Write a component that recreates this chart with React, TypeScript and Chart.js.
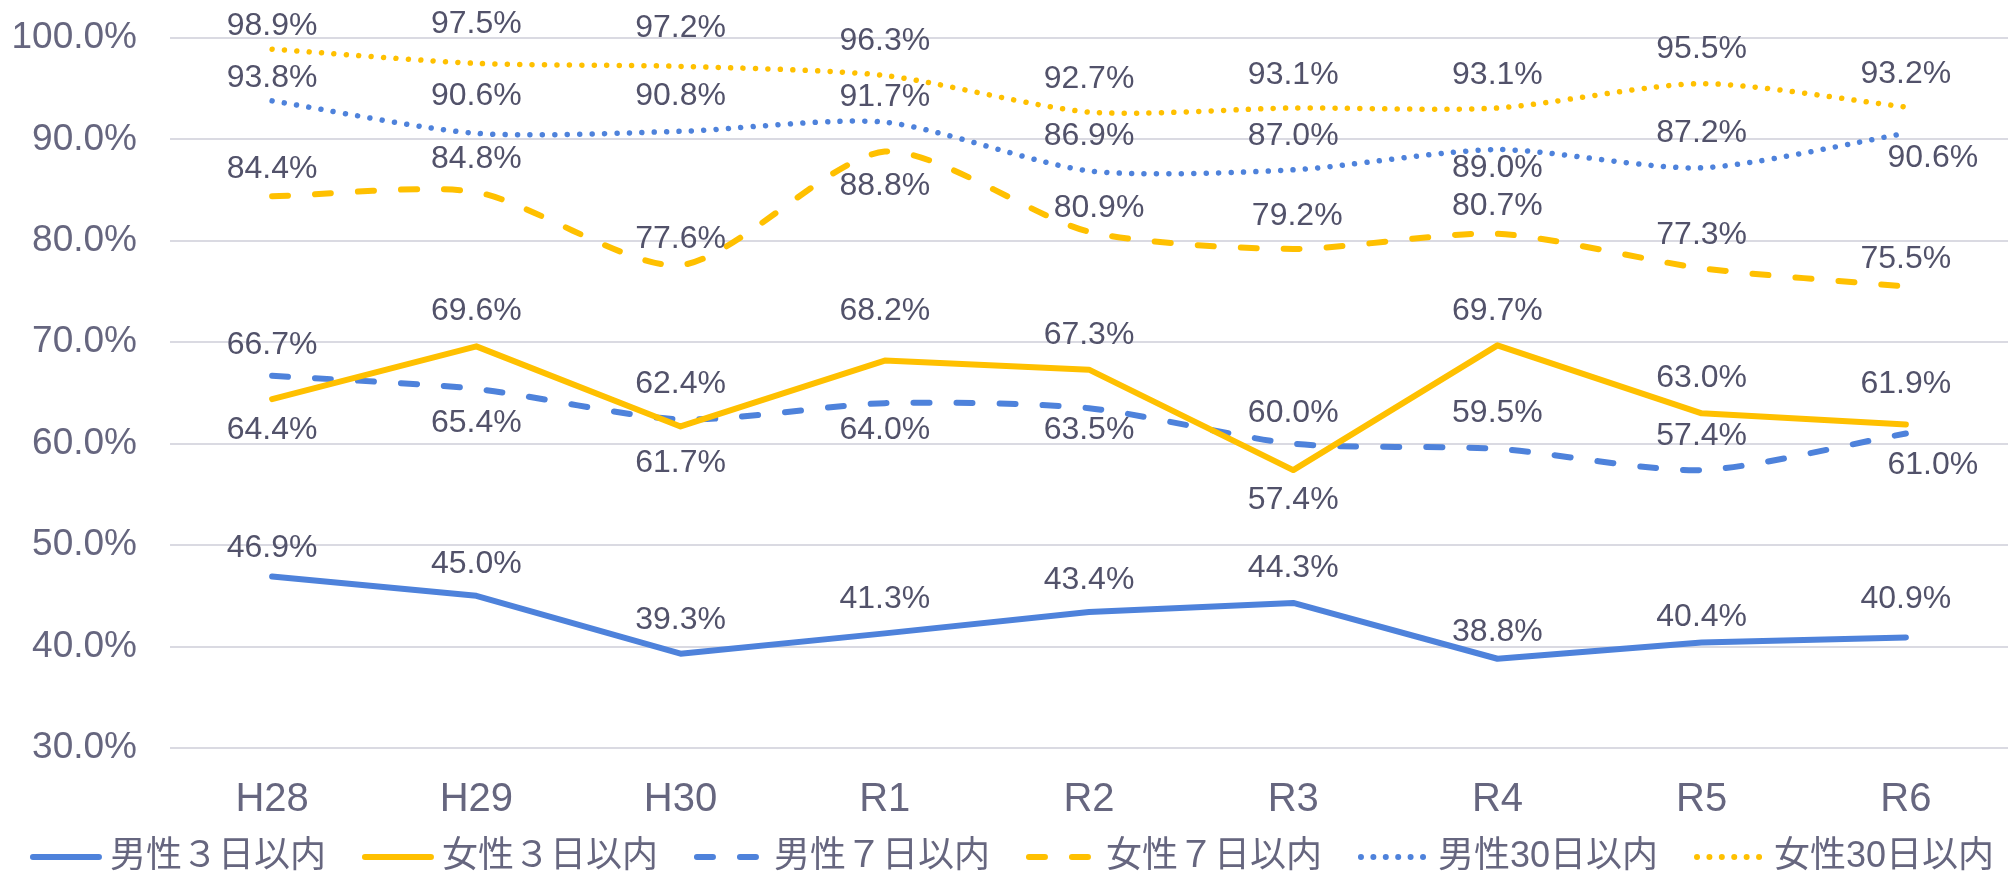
import React, { useEffect, useRef } from 'react';
import { Chart, registerables } from 'chart.js';

Chart.register(...registerables);

// ---- data ----
const categories = ['H28', 'H29', 'H30', 'R1', 'R2', 'R3', 'R4', 'R5', 'R6'];
const male3 = [46.9, 45.0, 39.3, 41.3, 43.4, 44.3, 38.8, 40.4, 40.9];
const female3 = [64.4, 69.6, 61.7, 68.2, 67.3, 57.4, 69.7, 63.0, 61.9];
const male7 = [66.7, 65.4, 62.4, 64.0, 63.5, 60.0, 59.5, 57.4, 61.0];
const female7 = [84.4, 84.8, 77.6, 88.8, 80.9, 79.2, 80.7, 77.3, 75.5];
const male30 = [93.8, 90.6, 90.8, 91.7, 86.9, 87.0, 89.0, 87.2, 90.6];
const female30 = [98.9, 97.5, 97.2, 96.3, 92.7, 93.1, 93.1, 95.5, 93.2];
const seriesNames = ['男性３日以内', '女性３日以内', '男性７日以内', '女性７日以内', '男性30日以内', '女性30日以内'];
const yMin = 30;
const yMax = 100;
const yStep = 10;

// ---- label placement (pixel offsets from each point) ----
const labelDy = [
  [-28, -32, -33, -34, -32, -35, -27, -25, -38],
  [31, -35, 37, -49, -34, 30, -34, -35, -40],
  [-31, 34, -35, 27, 22, -31, -36, -34, 32],
  [-27, -33, -26, 35, -24, -33, -28, -33, -27],
  [-23, -37, -35, -25, -35, -34, 19, -35, 25],
  [-23, -39, -38, -34, -33, -33, -33, -34, -33],
];
const labelDx = [
  [0, 0, 0, 0, 0, 0, 0, 0, 0],
  [0, 0, 0, 0, 0, 0, 0, 0, 0],
  [0, 0, 0, 0, 0, 0, 0, 0, 27],
  [0, 0, 0, 0, 10, 4, 0, 0, 0],
  [0, 0, 0, 0, 0, 0, 0, 0, 27],
  [0, 0, 0, 0, 0, 0, 0, 0, 0],
];

const BLUE = '#4E82DB';
const YELLOW = '#FFC000';
const TICK_COLOR = '#66667f';
const LABEL_COLOR = '#52526a';
const FONT = '"Liberation Sans", Arial, "Noto Sans CJK JP", sans-serif';

const SOLID: number[] = [];
const DASH = [16, 27];
const DOT = [0.01, 12.4];

const styles = [
  { color: BLUE, dash: SOLID, tension: 0 },
  { color: YELLOW, dash: SOLID, tension: 0 },
  { color: BLUE, dash: DASH, tension: 0.25 },
  { color: YELLOW, dash: DASH, tension: 0.25 },
  { color: BLUE, dash: DOT, tension: 0.25 },
  { color: YELLOW, dash: DOT, tension: 0.25 },
];
const seriesData = [male3, female3, male7, female7, male30, female30];

const dataLabelPlugin = {
  id: 'dataLabels',
  afterDatasetsDraw(chart: any) {
    const ctx = chart.ctx;
    ctx.save();
    ctx.font = `32px ${FONT}`;
    ctx.fillStyle = LABEL_COLOR;
    ctx.textAlign = 'center';
    ctx.textBaseline = 'middle';
    chart.data.datasets.forEach((ds: any, i: number) => {
      const meta = chart.getDatasetMeta(i);
      meta.data.forEach((el: any, j: number) => {
        const v = ds.data[j];
        ctx.fillText(v.toFixed(1) + '%', el.x + labelDx[i][j], el.y + labelDy[i][j]);
      });
    });
    ctx.restore();
  },
};

const legendPlugin = {
  id: 'customLegend',
  afterDraw(chart: any) {
    const ctx = chart.ctx;
    ctx.save();
    ctx.font = `36px ${FONT}`;
    const lineLen = 72;
    const gap = 8;
    const spacing = 36;
    const widths = seriesNames.map((n) => ctx.measureText(n).width);
    const total = widths.reduce((a, w) => a + lineLen + gap + w, 0) + spacing * (seriesNames.length - 1);
    let x = 1012 - total / 2;
    const y = 857;
    seriesNames.forEach((name, i) => {
      const st = styles[i];
      ctx.strokeStyle = st.color;
      ctx.lineWidth = 6;
      ctx.lineCap = 'round';
      ctx.setLineDash(st.dash);
      ctx.beginPath();
      ctx.moveTo(x + 3, y);
      ctx.lineTo(x + lineLen - 3, y);
      ctx.stroke();
      ctx.setLineDash([]);
      ctx.fillStyle = TICK_COLOR;
      ctx.textAlign = 'left';
      ctx.textBaseline = 'middle';
      ctx.fillText(name, x + lineLen + gap, y);
      x += lineLen + gap + widths[i] + spacing;
    });
    ctx.restore();
  },
};

export default function App() {
  const canvasRef = useRef<HTMLCanvasElement | null>(null);

  useEffect(() => {
    if (!canvasRef.current) return;
    const chart = new Chart(canvasRef.current, {
      type: 'line',
      data: {
        labels: categories,
        datasets: seriesData.map((d, i) => ({
          label: seriesNames[i],
          data: d,
          borderColor: styles[i].color,
          backgroundColor: styles[i].color,
          borderWidth: i >= 4 ? 5.5 : 6,
          borderDash: styles[i].dash,
          borderCapStyle: 'round',
          borderJoinStyle: 'round',
          tension: styles[i].tension,
          pointRadius: 0,
          fill: false,
          order: i,
        })),
      },
      options: {
        responsive: false,
        animation: false,
        devicePixelRatio: 1,
        layout: { padding: { top: 38, right: 6, left: 0, bottom: 0 } },
        plugins: {
          legend: { display: false },
          tooltip: { enabled: false },
        },
        scales: {
          x: {
            type: 'category',
            offset: true,
            grid: { display: false, drawTicks: false },
            border: { display: false },
            ticks: {
              color: TICK_COLOR,
              font: { size: 40, family: FONT },
              padding: 28,
              maxRotation: 0,
              autoSkip: false,
            },
            afterFit: (s: any) => {
              s.height = 125;
            },
          },
          y: {
            min: yMin,
            max: yMax,
            grid: { color: '#dadae2', lineWidth: 2, drawTicks: false },
            border: { display: false },
            ticks: {
              stepSize: yStep,
              color: TICK_COLOR,
              font: { size: 37, family: FONT },
              padding: 33,
              callback: (v: any) => Number(v).toFixed(1) + '%',
            },
            afterFit: (s: any) => {
              s.width = 170;
              s.paddingTop = 0;
              s.paddingBottom = 0;
            },
          },
        },
      },
      plugins: [dataLabelPlugin, legendPlugin],
    });
    return () => chart.destroy();
  }, []);

  return (
    <div style={{ position: 'absolute', left: 0, top: 0, width: 2014, height: 873, background: '#fff' }}>
      <canvas ref={canvasRef} width={2014} height={873} style={{ width: 2014, height: 873 }} />
    </div>
  );
}
